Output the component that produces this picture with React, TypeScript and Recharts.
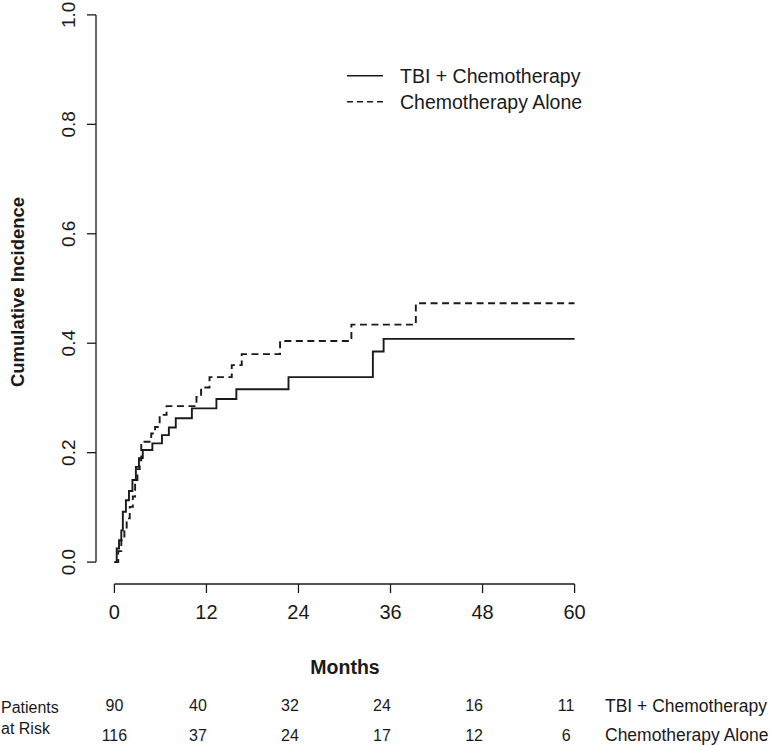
import React from "react";
import { LineChart, Line, XAxis, YAxis, ReferenceLine } from "recharts";

// axis ticks
const monthTicks = [0, 12, 24, 36, 48, 60];
const incidenceTicks = [0, 0.2, 0.4, 0.6, 0.8, 1.0];

// cumulative incidence steps
const tbiTimes = [0, 0.3, 0.6, 0.9, 1.1, 1.5, 1.9, 2.35, 2.8, 3.2, 3.7, 4.95, 6.2, 7.1, 8.0, 10.1, 13.3, 15.9, 22.7, 33.7, 35.1, 60];
const tbiIncidence = [0, 0.025, 0.04, 0.058, 0.092, 0.113, 0.13, 0.15, 0.174, 0.19, 0.205, 0.217, 0.232, 0.246, 0.263, 0.281, 0.298, 0.316, 0.338, 0.385, 0.408, 0.408];

const chemoTimes = [0, 0.5, 0.9, 1.3, 1.6, 2.0, 2.4, 2.7, 3.0, 3.3, 3.5, 4.8, 5.3, 5.9, 6.8, 10.7, 11.3, 12.4, 15.3, 16.6, 21.6, 30.9, 39.3, 60];
const chemoIncidence = [0, 0.02, 0.04, 0.06, 0.08, 0.101, 0.12, 0.15, 0.17, 0.186, 0.22, 0.235, 0.247, 0.269, 0.285, 0.302, 0.319, 0.338, 0.36, 0.38, 0.404, 0.434, 0.473, 0.473];

// patients at risk table
const atRiskTbi = [90, 40, 32, 24, 16, 11];
const atRiskChemo = [116, 37, 24, 17, 12, 6];
const groupNames = ["TBI + Chemotherapy", "Chemotherapy Alone"];

const tbiData = tbiTimes.map((t, i) => ({ t, v: tbiIncidence[i] }));
const chemoData = chemoTimes.map((t, i) => ({ t, v: chemoIncidence[i] }));

const SHIFT = 20; // chart is drawn 20px above the page top
const FONT = "'Liberation Sans', Arial, sans-serif";
const INK = "#1a1a1a";

function MonthTick(props: any) {
  const { x, payload } = props;
  const i = monthTicks.indexOf(payload.value);
  const rowX = i === 0 ? x : x - 8.5;
  return (
    <g fontFamily={FONT} fill={INK}>
      <text x={x} y={619 + SHIFT} textAnchor="middle" fontSize={20}>
        {payload.value}
      </text>
      <text x={rowX} y={711 + SHIFT} textAnchor="middle" fontSize={16}>
        {atRiskTbi[i]}
      </text>
      <text x={rowX} y={741 + SHIFT} textAnchor="middle" fontSize={16}>
        {atRiskChemo[i]}
      </text>
    </g>
  );
}

function IncidenceTick(props: any) {
  const { y, payload } = props;
  return (
    <text
      x={75}
      y={y}
      transform={`rotate(-90, 75, ${y})`}
      textAnchor="middle"
      fontSize={19}
      fontFamily={FONT}
      fill={INK}
    >
      {payload.value.toFixed(1)}
    </text>
  );
}

export default function App() {
  return (
    <div style={{ position: "absolute", left: 0, top: 0, width: 772, height: 746, overflow: "hidden", background: "#fff" }}>
      <div style={{ position: "absolute", left: 0, top: -SHIFT }}>
        <LineChart width={772} height={780} margin={{ top: 13, right: 179, bottom: 0, left: 0 }}>
          <XAxis
            type="number"
            dataKey="t"
            domain={[-2.4, 62.4]}
            ticks={monthTicks}
            axisLine={false}
            tickSize={9}
            tickLine={{ stroke: INK, strokeWidth: 1.3 }}
            tick={<MonthTick />}
            height={176}
            allowDataOverflow
          />
          <YAxis
            type="number"
            dataKey="v"
            domain={[-0.04, 1.04]}
            ticks={incidenceTicks}
            axisLine={false}
            tickSize={9}
            tickLine={{ stroke: INK, strokeWidth: 1.3 }}
            tick={<IncidenceTick />}
            width={96}
            allowDataOverflow
          />
          <ReferenceLine
            segment={[{ x: 0, y: -0.04 }, { x: 60, y: -0.04 }]}
            stroke={INK}
            strokeWidth={1.3}
            ifOverflow="visible"
          />
          <ReferenceLine
            segment={[{ x: -2.4, y: 0 }, { x: -2.4, y: 1 }]}
            stroke={INK}
            strokeWidth={1.3}
            ifOverflow="visible"
          />
          <Line
            data={tbiData}
            dataKey="v"
            type="stepAfter"
            stroke={INK}
            strokeWidth={1.9}
            dot={false}
            isAnimationActive={false}
          />
          <Line
            data={chemoData}
            dataKey="v"
            type="stepAfter"
            stroke={INK}
            strokeWidth={1.9}
            strokeDasharray="7 4.5"
            dot={false}
            isAnimationActive={false}
          />
        </LineChart>
      </div>
      <svg
        width={772}
        height={746}
        style={{ position: "absolute", left: 0, top: 0, pointerEvents: "none" }}
        fontFamily={FONT}
        fill={INK}
      >
        {/* legend */}
        <line x1={347} x2={383} y1={75.7} y2={75.7} stroke={INK} strokeWidth={1.5} />
        <text x={400} y={82.7} fontSize={19.5}>{groupNames[0]}</text>
        <line x1={347} x2={383} y1={101.7} y2={101.7} stroke={INK} strokeWidth={1.5} strokeDasharray="6 4" />
        <text x={400} y={108.7} fontSize={19.5}>{groupNames[1]}</text>

        {/* axis titles */}
        <text x={345} y={674} fontSize={19.5} fontWeight="bold" textAnchor="middle">Months</text>
        <text x={24} y={292} transform="rotate(-90, 24, 292)" fontSize={18.5} fontWeight="bold" textAnchor="middle">
          Cumulative Incidence
        </text>

        {/* risk table labels */}
        <text x={1} y={713} fontSize={16}>Patients</text>
        <text x={1} y={734} fontSize={16}>at Risk</text>
        <text x={605} y={711.5} fontSize={17.5}>{groupNames[0]}</text>
        <text x={605} y={741} fontSize={17.5}>{groupNames[1]}</text>
      </svg>
    </div>
  );
}
